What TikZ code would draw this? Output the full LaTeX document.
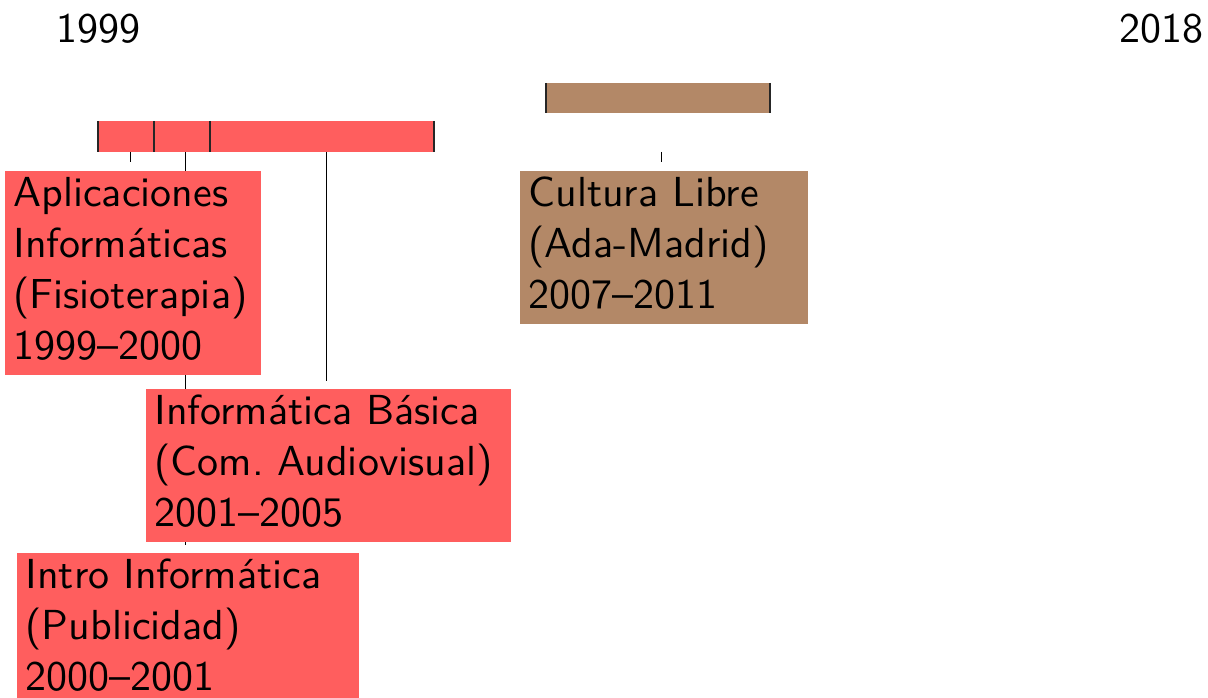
\documentclass[tikz,border=0pt]{standalone}
\usepackage{fontspec}
\newfontfamily\tlfont[Ligatures=TeX]{lmsans10-regular.otf}
\usetikzlibrary{calc}
\definecolor{tlred}{RGB}{255,94,94}
\definecolor{tlbrown}{RGB}{179,136,103}
\pgfdeclarelayer{background}
\pgfsetlayers{background,main}
\tikzset{
  seg/.style={inner sep=0pt, outer sep=0pt, anchor=north west},
  divider/.style={line width=1.4pt, black!85},
  conn/.style={line width=0.9pt, black},
  event/.style={anchor=north west, inner xsep=8.5pt, inner ysep=0pt, outer sep=0pt, align=left,
    font=\tlfont\fontsize{42}{51}\selectfont},
  year/.style={font=\tlfont\fontsize{42}{51}\selectfont, inner sep=0pt, anchor=base}
}
\begin{document}
\begin{tikzpicture}[x=1pt,y=-1pt]
\useasboundingbox (0,0) rectangle (1208,698);
% year labels
\node[year] (y1999) at (98.5,43) {1999};
\node[year] (y2018) at (1161,43) {2018};
% bars
\node[seg, fill=tlred, minimum width=56pt, minimum height=31pt] (s1) at (98,121) {};
\node[seg, fill=tlred, minimum width=56pt, minimum height=31pt] (s2) at (154,121) {};
\node[seg, fill=tlred, minimum width=224pt, minimum height=31pt] (s3) at (210,121) {};
\node[seg, fill=tlbrown, minimum width=224pt, minimum height=30pt] (s4) at (546,83) {};
\draw[divider] (s1.north west) -- (s1.south west);
\draw[divider] (s2.north west) -- (s2.south west);
\draw[divider] (s3.north west) -- (s3.south west);
\draw[divider] (s3.north east) -- (s3.south east);
\draw[divider] (s4.north west) -- (s4.south west);
\draw[divider] (s4.north east) -- (s4.south east);
% event boxes
\node[event, fill=tlred, text width=239pt] (ap) at (5,171)
  {\strut Aplicaciones\\Informáticas\\(Fisioterapia)\\1999--2000\strut};
\node[event, fill=tlbrown, text width=271pt] (cu) at (520,171)
  {\strut Cultura Libre\\(Ada-Madrid)\\2007--2011\strut};
\node[event, fill=tlred, text width=348pt] (ib) at (146,389)
  {\strut Informática Básica\\(Com.\ Audiovisual)\\2001--2005\strut};
\node[event, fill=tlred, text width=325pt] (ii) at (17,553)
  {\strut Intro Informática\\(Publicidad)\\2000--2001\strut};
% connector start points
\coordinate (t1) at (130,152);
\coordinate (t2) at (185,152);
\coordinate (t3) at (326,152);
\coordinate (t4) at (661,152);
\begin{pgfonlayer}{background}
\draw[conn, shorten >=9pt] (t1) -- (t1 |- ap.north);
\draw[conn, shorten >=8pt] (t2) -- (t2 |- ii.north);
\draw[conn, shorten >=8pt] (t3) -- (t3 |- ib.north);
\draw[conn, shorten >=9pt] (t4) -- (t4 |- cu.north);
\end{pgfonlayer}
\end{tikzpicture}
\end{document}
